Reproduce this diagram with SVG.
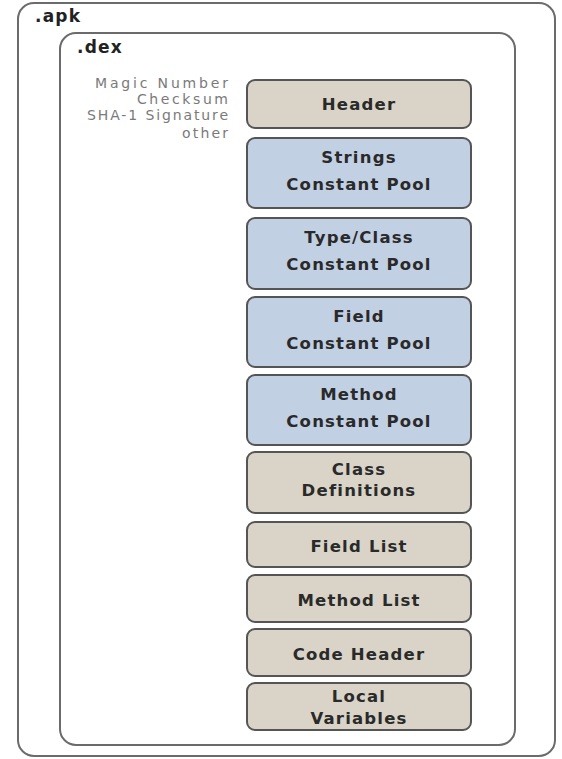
<svg xmlns="http://www.w3.org/2000/svg" width="562" height="759" viewBox="0 0 562 759">
<style>
.cont{fill:#fff;stroke:#6b6b6b;stroke-width:2}
.tan{fill:#d9d4c7;stroke:#555;stroke-width:2}
.blue{fill:#c2d0e4;stroke:#555;stroke-width:2}
.lbl{font-family:"DejaVu Sans",sans-serif;font-weight:bold;font-size:16.5px;letter-spacing:1.2px;fill:#2a2a2a;text-anchor:middle}
.ttl{font-family:"DejaVu Sans",sans-serif;font-weight:bold;font-size:17px;letter-spacing:1.2px;fill:#222}
.note{font-family:"DejaVu Sans",sans-serif;font-size:14px;fill:#7a7a7a;text-anchor:end}
</style>
<rect width="562" height="759" fill="#fff"/>
<g id="apk">
<rect class="cont" x="18" y="3" width="537" height="753" rx="16"/>
<text class="ttl" x="35" y="22">.apk</text>
</g>
<g id="dex">
<rect class="cont" x="60" y="33" width="455" height="712" rx="16"/>
<text class="ttl" x="77" y="53">.dex</text>
<text class="note" x="228" y="88" textLength="133" lengthAdjust="spacing">Magic Number</text>
<text class="note" x="228" y="104" textLength="91" lengthAdjust="spacing">Checksum</text>
<text class="note" x="228" y="120" textLength="141" lengthAdjust="spacing">SHA-1 Signature</text>
<text class="note" x="228" y="138" textLength="46" lengthAdjust="spacing">other</text>
</g>
<g id="header"><rect class="tan" x="247" y="80" width="224" height="48" rx="8"/><text class="lbl" x="359" y="110">Header</text></g>
<g id="strings"><rect class="blue" x="247" y="138" width="224" height="70" rx="8"/><text class="lbl" x="359" y="163">Strings</text><text class="lbl" x="359" y="190">Constant Pool</text></g>
<g id="typeclass"><rect class="blue" x="247" y="218" width="224" height="71" rx="8"/><text class="lbl" x="359" y="243">Type/Class</text><text class="lbl" x="359" y="270">Constant Pool</text></g>
<g id="field"><rect class="blue" x="247" y="297" width="224" height="70" rx="8"/><text class="lbl" x="359" y="322">Field</text><text class="lbl" x="359" y="349">Constant Pool</text></g>
<g id="method"><rect class="blue" x="247" y="375" width="224" height="70" rx="8"/><text class="lbl" x="359" y="400">Method</text><text class="lbl" x="359" y="427">Constant Pool</text></g>
<g id="classdefs"><rect class="tan" x="247" y="452" width="224" height="61" rx="8"/><text class="lbl" x="359" y="475">Class</text><text class="lbl" x="359" y="496">Definitions</text></g>
<g id="fieldlist"><rect class="tan" x="247" y="522" width="224" height="45" rx="8"/><text class="lbl" x="359" y="552">Field List</text></g>
<g id="methodlist"><rect class="tan" x="247" y="575" width="224" height="47" rx="8"/><text class="lbl" x="359" y="606">Method List</text></g>
<g id="codeheader"><rect class="tan" x="247" y="629" width="224" height="47" rx="8"/><text class="lbl" x="359" y="660">Code Header</text></g>
<g id="localvars"><rect class="tan" x="247" y="683" width="224" height="47" rx="8"/><text class="lbl" x="359" y="702">Local</text><text class="lbl" x="359" y="724">Variables</text></g>
<g id="connectors"></g>
</svg>
